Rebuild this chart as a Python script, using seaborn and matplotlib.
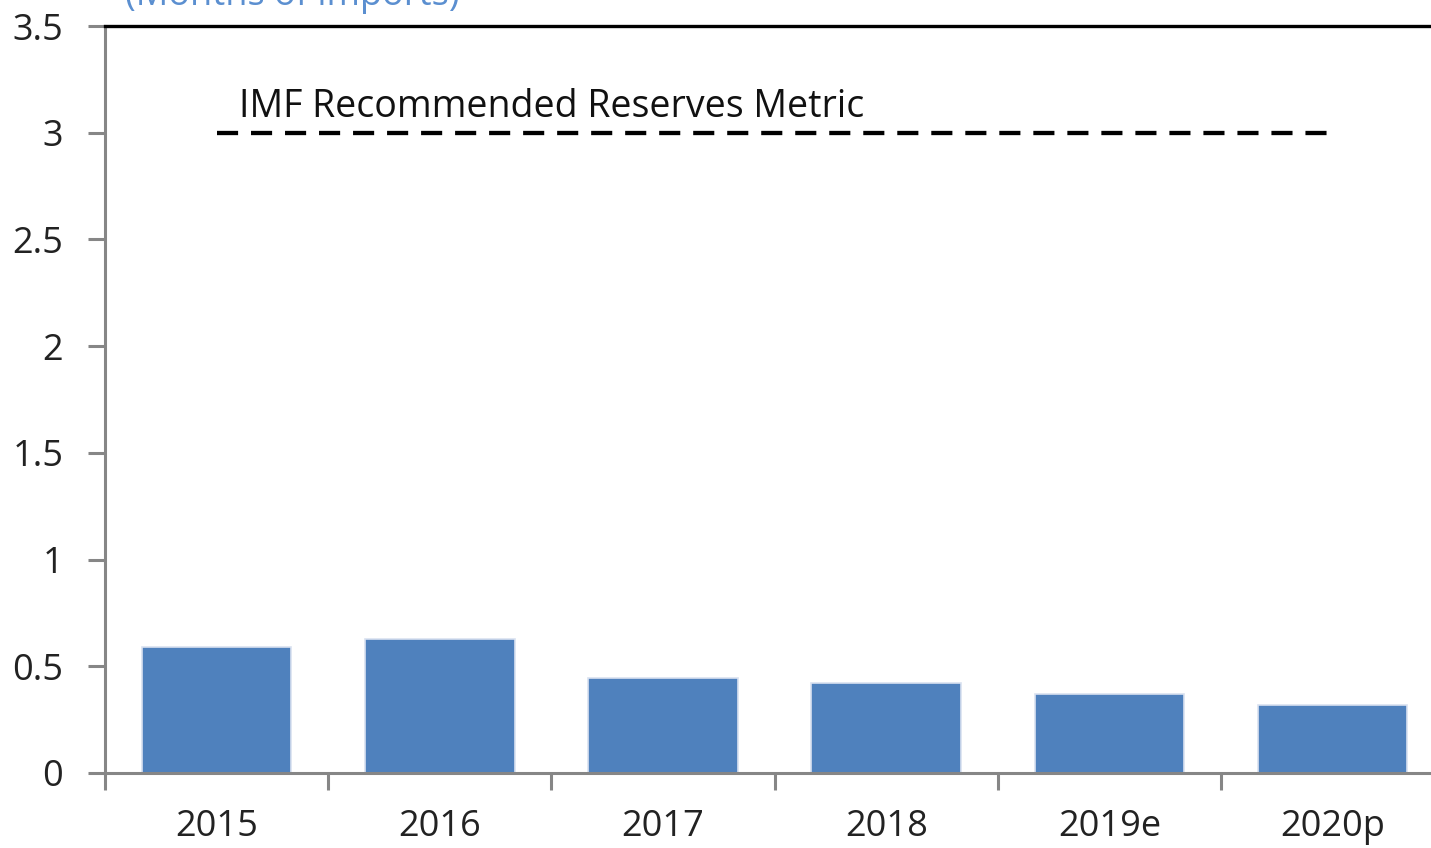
import matplotlib
matplotlib.use("Agg")
import matplotlib.pyplot as plt
import seaborn as sns
import pandas as pd

years = ["2015", "2016", "2017", "2018", "2019e", "2020p"]
reserves_months = [0.59, 0.63, 0.445, 0.42, 0.37, 0.32]
imf_metric = [3.0, 3.0, 3.0, 3.0, 3.0, 3.0]
y_ticks = [0, 0.5, 1, 1.5, 2, 2.5, 3, 3.5]
y_tick_labels = ["0", "0.5", "1", "1.5", "2", "2.5", "3", "3.5"]

df = pd.DataFrame({"year": years, "reserves": reserves_months})

sns.set_style("white")
plt.rcParams['font.family'] = ['Open Sans', 'DejaVu Sans']

fig = plt.figure(figsize=(14.31, 8.48), dpi=100)
ax = fig.add_axes([105/1431, 1-773/848, 1-105/1431, (773-26)/848])

sns.barplot(data=df, x="year", y="reserves", color="#4F81BD", saturation=1,
            width=0.67, edgecolor="#D9E1F0", linewidth=1.2, ax=ax)
ax.plot(range(len(years)), imf_metric, color="black", lw=3.1,
        dashes=(4.9, 3.0), solid_capstyle="butt", dash_capstyle="butt")
ax.text(0.1, 3.075, "IMF Recommended Reserves Metric", fontsize=27,
        color="#111111", ha="left", va="baseline")

ax.set_ylim(0, 3.5)
ax.set_xlim(-0.5, (1431-105)/223.2 - 0.5)
ax.set_yticks(y_ticks)
ax.set_yticklabels(y_tick_labels)
ax.set_xticks([i - 0.5 for i in range(len(years))], minor=False)
ax.set_xticklabels([])
ax.set_xticks(range(len(years)), minor=True)
ax.set_xticklabels(years, minor=True)
ax.set_xlabel("")
ax.set_ylabel("")

gray = "#868686"
for s in ["left", "bottom"]:
    ax.spines[s].set_color(gray)
    ax.spines[s].set_linewidth(2.2)
ax.spines["top"].set_color("black")
ax.spines["top"].set_linewidth(2.4)
ax.spines["right"].set_visible(False)

ax.tick_params(axis="y", which="major", left=True, length=12, width=2.2,
               color=gray, pad=18, labelsize=26, labelcolor="#222222")
ax.tick_params(axis="x", which="major", bottom=True, length=12, width=2.2,
               color=gray)
ax.tick_params(axis="x", which="minor", bottom=False, length=0, pad=26,
               labelsize=26, labelcolor="#222222")

fig.text(125/1431, 1 - 5/848, "(Months of imports)", fontsize=26,
         color="#5B8FD0", ha="left", va="baseline")

fig.savefig("out.png", dpi=100)
